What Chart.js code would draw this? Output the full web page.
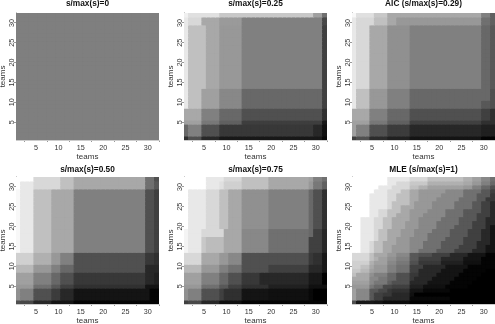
<!DOCTYPE html>
<html>
<head>
<meta charset="utf-8">
<title>teams</title>
<script src="https://cdn.jsdelivr.net/npm/chart.js@4/dist/chart.umd.min.js"></script>
<style>
  html, body { margin: 0; background: #fff; }
  body { width: 495px; height: 324px; position: relative; overflow: hidden; }
  .panel { position: absolute; }
  canvas { filter: blur(0.35px); }
</style>
</head>
<body>
<script>
// team numbers along both axes
const teams = Array.from({ length: 32 }, (_, i) => i + 1);
const tickLabels = [5, 10, 15, 20, 25, 30];

// each entry: [how many rows, [last team of run, grey, last team of run, grey, ...]]
// rows are listed from team 32 (top) down to team 1 (bottom)
const rowsS0 = [
    [32, [32, 0x7f]]
];
const rowsS25 = [
    [1, [1, 0xf0, 8, 0xe0, 29, 0xc8, 31, 0xa0, 32, 0x70]],
    [2, [1, 0xe8, 4, 0xd8, 8, 0xa8, 13, 0x9a, 31, 0x80, 32, 0x48]],
    [16, [1, 0xe8, 5, 0xc0, 8, 0xa8, 13, 0x98, 31, 0x80, 32, 0x40]],
    [5, [1, 0xe8, 4, 0xc0, 8, 0xa0, 13, 0x88, 31, 0x68, 32, 0x40]],
    [3, [4, 0xa8, 8, 0x80, 13, 0x68, 31, 0x50, 32, 0x30]],
    [1, [4, 0xa0, 8, 0x78, 13, 0x60, 31, 0x3e, 32, 0x18]],
    [3, [1, 0x68, 4, 0x80, 8, 0x50, 29, 0x38, 31, 0x28, 32, 0x10]],
    [1, [1, 0x30, 4, 0x50, 8, 0x28, 31, 0x18, 32, 0x08]]
];
const rowsAic = [
    [1, [1, 0xf8, 5, 0xe0, 8, 0xc8, 29, 0xa8, 31, 0x80, 32, 0x60]],
    [2, [1, 0xe8, 5, 0xd8, 8, 0xc0, 10, 0xa8, 29, 0x98, 31, 0x70, 32, 0x60]],
    [16, [1, 0xe8, 4, 0xd8, 8, 0xa8, 13, 0x90, 29, 0x80, 31, 0x68, 32, 0x58]],
    [3, [1, 0xe8, 4, 0xc0, 8, 0x98, 13, 0x80, 31, 0x68, 32, 0x50]],
    [2, [1, 0xe8, 4, 0xc0, 8, 0x98, 13, 0x80, 29, 0x68, 31, 0x58, 32, 0x50]],
    [3, [4, 0xa8, 8, 0x80, 13, 0x68, 29, 0x50, 31, 0x40, 32, 0x30]],
    [1, [4, 0xa0, 8, 0x78, 13, 0x60, 29, 0x40, 32, 0x30]],
    [3, [1, 0xa0, 4, 0x80, 8, 0x50, 13, 0x3c, 29, 0x28, 32, 0x20]],
    [1, [1, 0x40, 4, 0x50, 8, 0x2c, 13, 0x20, 29, 0x14, 32, 0x04]]
];
const rowsS50 = [
    [1, [4, 0xff, 10, 0xd8, 13, 0xc0, 29, 0xa8, 31, 0x70, 32, 0x50]],
    [2, [1, 0xff, 4, 0xe8, 10, 0xd8, 13, 0xc0, 29, 0xa8, 31, 0x70, 32, 0x58]],
    [16, [1, 0xf8, 4, 0xe8, 8, 0xc0, 13, 0xa8, 29, 0x80, 31, 0x50, 32, 0x40]],
    [3, [4, 0xd0, 8, 0xb0, 10, 0x98, 13, 0x80, 29, 0x50, 31, 0x38, 32, 0x30]],
    [2, [4, 0xb8, 8, 0x98, 10, 0x80, 13, 0x68, 29, 0x50, 32, 0x28]],
    [3, [4, 0xa0, 8, 0x80, 10, 0x68, 13, 0x50, 29, 0x38, 31, 0x28, 32, 0x20]],
    [1, [4, 0x98, 8, 0x70, 10, 0x58, 13, 0x40, 29, 0x30, 32, 0x14]],
    [3, [1, 0x90, 4, 0x80, 8, 0x50, 10, 0x3c, 13, 0x28, 30, 0x14, 32, 0x04]],
    [1, [1, 0x50, 4, 0x48, 8, 0x28, 13, 0x14, 32, 0x04]]
];
const rowsS75 = [
    [1, [5, 0xff, 9, 0xe8, 13, 0xd8, 19, 0xc0, 28, 0xa8, 29, 0xa0, 31, 0x80, 32, 0x70]],
    [2, [5, 0xff, 8, 0xe8, 9, 0xe0, 13, 0xd0, 19, 0xc0, 28, 0xa8, 29, 0x98, 31, 0x78, 32, 0x60]],
    [10, [1, 0xff, 5, 0xe8, 8, 0xd8, 10, 0xc0, 13, 0xa8, 19, 0x90, 28, 0x80, 29, 0x68, 31, 0x50, 32, 0x30]],
    [2, [1, 0xf4, 4, 0xe8, 9, 0xd8, 13, 0xa8, 19, 0x88, 28, 0x70, 29, 0x68, 31, 0x40, 32, 0x28]],
    [4, [1, 0xf4, 4, 0xe8, 5, 0xc8, 9, 0xbc, 13, 0xa8, 19, 0x88, 28, 0x70, 31, 0x40, 32, 0x28]],
    [3, [4, 0xd8, 8, 0xa8, 10, 0x98, 13, 0x88, 28, 0x50, 29, 0x38, 31, 0x30, 32, 0x18]],
    [2, [4, 0xb8, 8, 0x98, 10, 0x80, 13, 0x70, 19, 0x50, 28, 0x40, 31, 0x28, 32, 0x18]],
    [3, [4, 0xa0, 8, 0x80, 10, 0x68, 13, 0x50, 17, 0x38, 28, 0x28, 31, 0x18, 32, 0x00]],
    [1, [4, 0x98, 8, 0x70, 10, 0x58, 13, 0x40, 19, 0x30, 28, 0x20, 32, 0x10]],
    [3, [1, 0x90, 4, 0x80, 8, 0x50, 9, 0x40, 13, 0x30, 19, 0x14, 28, 0x10, 29, 0x08, 32, 0x00]],
    [1, [1, 0x40, 4, 0x48, 8, 0x28, 13, 0x10, 32, 0x04]]
];
const rowsMle = [
    [1, [8, 0xff, 13, 0xe8, 17, 0xd8, 25, 0xc0, 27, 0xb0, 29, 0xa0, 31, 0x88, 32, 0x70]],
    [1, [8, 0xff, 10, 0xe8, 13, 0xd8, 17, 0xc8, 25, 0xb0, 27, 0xa8, 29, 0x98, 31, 0x80, 32, 0x68]],
    [1, [6, 0xff, 9, 0xe8, 13, 0xd8, 15, 0xc0, 17, 0xb0, 25, 0xa0, 27, 0x98, 29, 0x80, 31, 0x68, 32, 0x50]],
    [1, [5, 0xff, 8, 0xe8, 11, 0xd8, 13, 0xc0, 15, 0xa8, 21, 0x98, 25, 0x88, 29, 0x70, 31, 0x58, 32, 0x40]],
    [1, [4, 0xff, 8, 0xe8, 10, 0xd8, 13, 0xc0, 15, 0xa8, 20, 0x98, 25, 0x88, 28, 0x70, 31, 0x58, 32, 0x38]],
    [1, [4, 0xff, 8, 0xe8, 10, 0xd8, 13, 0xc0, 15, 0xa8, 19, 0x98, 24, 0x88, 28, 0x70, 30, 0x58, 32, 0x38]],
    [1, [4, 0xff, 8, 0xe8, 9, 0xd8, 13, 0xc0, 14, 0xa8, 18, 0x98, 23, 0x88, 27, 0x70, 29, 0x58, 31, 0x40, 32, 0x28]],
    [1, [4, 0xff, 8, 0xe8, 9, 0xd8, 11, 0xc0, 14, 0xa8, 18, 0x98, 23, 0x88, 27, 0x70, 29, 0x58, 31, 0x40, 32, 0x28]],
    [1, [4, 0xff, 6, 0xe8, 8, 0xd8, 11, 0xc0, 13, 0xa8, 17, 0x98, 21, 0x88, 25, 0x70, 29, 0x58, 31, 0x40, 32, 0x28]],
    [1, [4, 0xff, 6, 0xe8, 8, 0xd8, 10, 0xc0, 13, 0xa8, 16, 0x98, 21, 0x88, 25, 0x70, 28, 0x58, 31, 0x40, 32, 0x28]],
    [1, [2, 0xff, 5, 0xe8, 7, 0xd8, 9, 0xc0, 13, 0xa8, 15, 0x98, 20, 0x88, 24, 0x70, 28, 0x58, 30, 0x40, 32, 0x28]],
    [1, [2, 0xff, 5, 0xe8, 7, 0xd8, 9, 0xc0, 12, 0xa8, 15, 0x98, 19, 0x88, 24, 0x70, 27, 0x58, 30, 0x40, 32, 0x28]],
    [1, [2, 0xff, 5, 0xe8, 7, 0xd8, 9, 0xc0, 12, 0xa8, 15, 0x98, 19, 0x88, 23, 0x70, 27, 0x58, 30, 0x40, 31, 0x28, 32, 0x14]],
    [1, [2, 0xff, 5, 0xe8, 6, 0xd8, 8, 0xc0, 11, 0xa8, 14, 0x98, 18, 0x88, 22, 0x70, 26, 0x58, 29, 0x40, 31, 0x28, 32, 0x14]],
    [1, [2, 0xff, 5, 0xe8, 6, 0xd8, 8, 0xc0, 11, 0xa8, 14, 0x98, 17, 0x88, 22, 0x70, 26, 0x58, 29, 0x40, 31, 0x28, 32, 0x14]],
    [1, [2, 0xff, 5, 0xe8, 6, 0xd8, 8, 0xc0, 10, 0xa8, 13, 0x98, 17, 0x88, 21, 0x70, 25, 0x58, 29, 0x40, 31, 0x28, 32, 0x14]],
    [1, [2, 0xff, 4, 0xe8, 5, 0xd8, 7, 0xc0, 10, 0xa8, 13, 0x98, 16, 0x88, 20, 0x70, 25, 0x58, 28, 0x40, 31, 0x28, 32, 0x14]],
    [1, [2, 0xff, 4, 0xe8, 5, 0xd8, 7, 0xc0, 9, 0xa8, 13, 0x98, 16, 0x88, 20, 0x70, 24, 0x58, 28, 0x40, 30, 0x28, 32, 0x14]],
    [1, [2, 0xff, 4, 0xe8, 5, 0xd8, 7, 0xc0, 9, 0xa8, 13, 0x98, 15, 0x88, 19, 0x70, 23, 0x58, 27, 0x40, 30, 0x28, 32, 0x14]],
    [1, [4, 0xd8, 5, 0xc0, 8, 0xa8, 10, 0x98, 13, 0x88, 15, 0x58, 18, 0x50, 22, 0x40, 26, 0x28, 30, 0x14, 32, 0x04]],
    [1, [4, 0xd8, 5, 0xc0, 6, 0xb0, 8, 0xa0, 10, 0x90, 13, 0x80, 15, 0x58, 20, 0x40, 25, 0x28, 29, 0x14, 32, 0x04]],
    [1, [4, 0xd0, 5, 0xb0, 8, 0xa0, 10, 0x88, 13, 0x78, 15, 0x50, 20, 0x38, 25, 0x20, 29, 0x10, 32, 0x04]],
    [1, [2, 0xd0, 4, 0xc0, 5, 0xa8, 8, 0x98, 10, 0x80, 13, 0x70, 16, 0x40, 21, 0x28, 26, 0x14, 32, 0x04]],
    [1, [2, 0xc8, 4, 0xb8, 5, 0xa0, 8, 0x98, 10, 0x80, 13, 0x70, 15, 0x40, 20, 0x28, 25, 0x14, 30, 0x04, 32, 0x00]],
    [1, [1, 0xc0, 4, 0xa8, 5, 0x90, 8, 0x80, 10, 0x68, 13, 0x50, 15, 0x38, 19, 0x28, 24, 0x14, 29, 0x04, 32, 0x00]],
    [1, [4, 0xa8, 6, 0x88, 8, 0x78, 10, 0x68, 13, 0x50, 14, 0x38, 18, 0x28, 23, 0x14, 28, 0x04, 32, 0x00]],
    [1, [4, 0xa0, 5, 0x88, 8, 0x78, 9, 0x60, 13, 0x50, 17, 0x28, 22, 0x14, 27, 0x04, 32, 0x00]],
    [1, [4, 0x98, 5, 0x78, 7, 0x68, 9, 0x48, 13, 0x40, 16, 0x20, 21, 0x10, 26, 0x04, 32, 0x00]],
    [1, [1, 0xa0, 4, 0x88, 6, 0x58, 8, 0x48, 9, 0x38, 13, 0x30, 16, 0x14, 22, 0x08, 32, 0x00]],
    [1, [1, 0xa0, 4, 0x88, 5, 0x58, 7, 0x40, 9, 0x38, 13, 0x28, 14, 0x10, 32, 0x00]],
    [1, [1, 0xa0, 4, 0x88, 5, 0x58, 7, 0x40, 13, 0x28, 22, 0x08, 32, 0x00]],
    [1, [1, 0x50, 5, 0x18, 7, 0x14, 13, 0x0c, 32, 0x00]]
];

const panelTitles = ['s/max(s)=0', 's/max(s)=0.25', 'AIC (s/max(s)=0.29)', 's/max(s)=0.50', 's/max(s)=0.75', 'MLE (s/max(s)=1)'];
const panelRows = [rowsS0, rowsS25, rowsAic, rowsS50, rowsS75, rowsMle];

const FONT = '"Liberation Sans", Arial, sans-serif';

// turns the run lists into one floating-bar dataset per row
function buildDatasets(rows) {
    const datasets = [];
    let team = 32;
    rows.forEach(([count, runs]) => {
        for (let n = 0; n < count; n++) {
            const colors = [];
            let col = 1;
            for (let i = 0; i < runs.length; i += 2) {
                const hex = runs[i + 1];
                while (col <= runs[i]) {
                    colors.push(`rgb(${hex},${hex},${hex})`);
                    col++;
                }
            }
            datasets.push({
                data: teams.map(() => [team - 0.5, team + 0.5]),
                backgroundColor: colors,
                borderWidth: 0,
                inflateAmount: 0.5,
                grouped: false,
                barPercentage: 1,
                categoryPercentage: 1
            });
            team--;
        }
    });
    return datasets;
}

function addPanel(i) {
    const col = i % 3;
    const isTop = i < 3;
    const box = document.createElement('div');
    box.className = 'panel';
    const top = isTop ? 0 : 164;
    box.style.cssText = `left:${col * 168}px;top:${top}px;width:160px;height:162px`;
    const canvas = document.createElement('canvas');
    box.appendChild(canvas);
    document.body.appendChild(box);

    new Chart(canvas.getContext('2d'), {
        type: 'bar',
        data: { labels: teams, datasets: buildDatasets(panelRows[i]) },
        options: {
            responsive: true,
            maintainAspectRatio: false,
            animation: false,
            layout: { padding: { right: 1, top: 0, bottom: 0, left: 0 } },
            plugins: {
                legend: { display: false },
                tooltip: { enabled: false },
                title: {
                    display: true,
                    fullSize: false,
                    text: panelTitles[i],
                    color: '#111',
                    font: { family: FONT, size: 8.3, weight: 'bold' },
                    // bottom row titles sit a little closer to their plots
                    padding: isTop ? { top: -1, bottom: 4 } : { top: 0.5, bottom: 2.5 }
                }
            },
            scales: {
                x: {
                    offset: true,
                    afterBuildTicks: s => { s.ticks = tickLabels.map(v => ({ value: teams.indexOf(v) })); },
                    grid: { drawOnChartArea: false, drawTicks: true, tickLength: 2, tickColor: '#999' },
                    border: { color: '#ccc' },
                    afterFit: s => { s.height = 22; },
                    ticks: {
                        autoSkip: false,
                        maxRotation: 0,
                        padding: 2,
                        color: '#333',
                        font: { family: FONT, size: 7.2 },
                        callback: v => String(teams[v])
                    },
                    title: { display: true, text: 'teams', color: '#333', padding: { top: 0, bottom: 0 }, font: { family: FONT, size: 8 } }
                },
                y: {
                    min: 0.5,
                    max: 32.5,
                    afterFit: s => { s.width = 16; },
                    afterBuildTicks: s => { s.ticks = tickLabels.map(v => ({ value: v })); },
                    grid: { drawOnChartArea: false, drawTicks: true, tickLength: 2, tickColor: '#999' },
                    border: { color: '#ccc' },
                    ticks: {
                        minRotation: 90,
                        maxRotation: 90,
                        crossAlign: 'center',
                        padding: -2,
                        color: '#333',
                        font: { family: FONT, size: 7.2 }
                    },
                    title: { display: true, text: 'teams', color: '#333', padding: { top: -1, bottom: 0 }, font: { family: FONT, size: 8, lineHeight: 1 } }
                }
            }
        }
    });
}

panelTitles.forEach((_, i) => addPanel(i));
</script>
</body>
</html>
